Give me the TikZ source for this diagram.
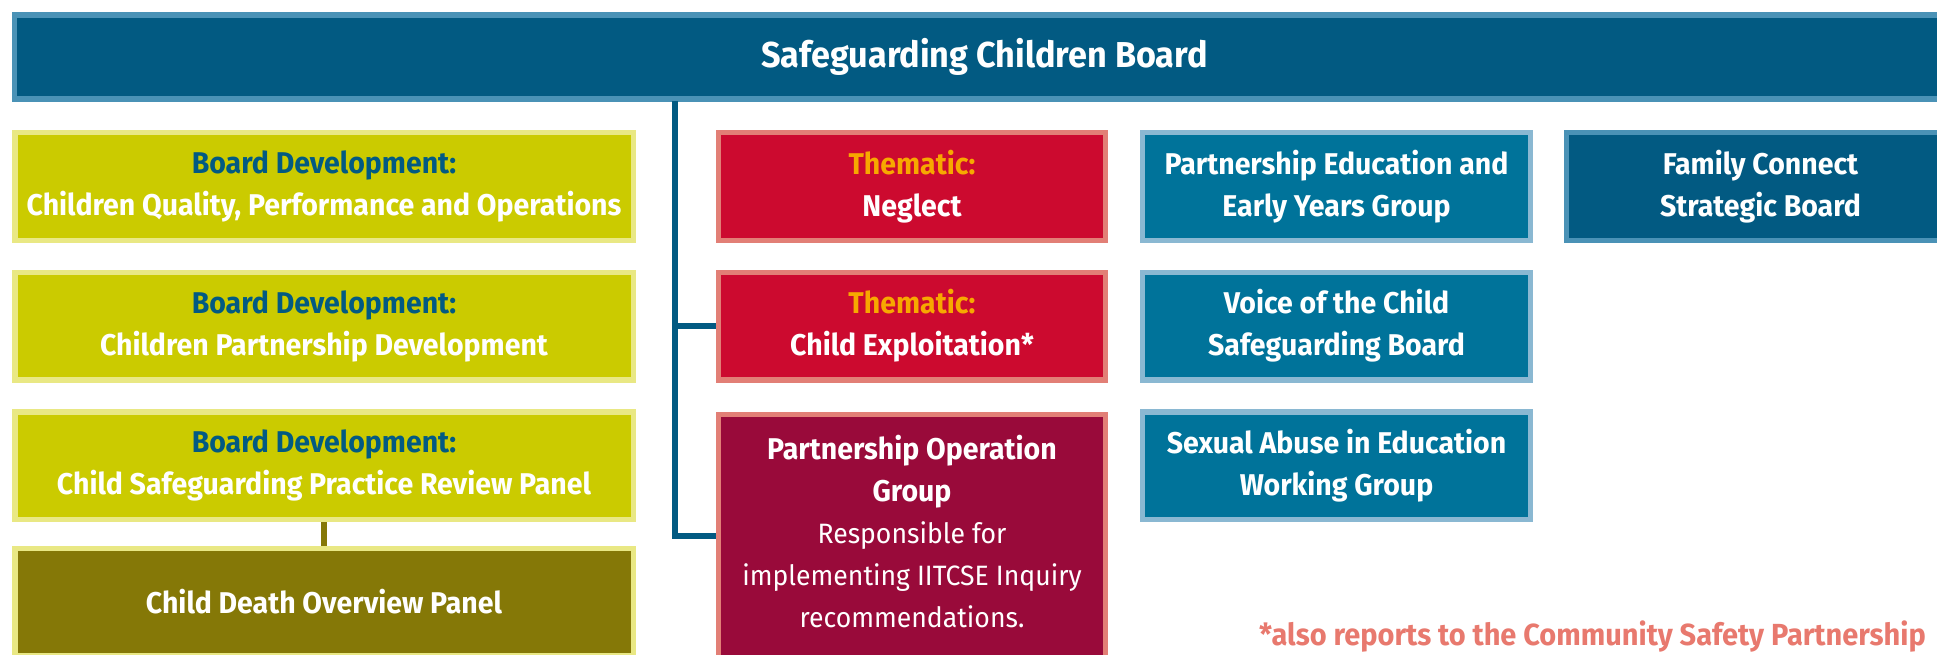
\documentclass[tikz,border=0pt]{standalone}
\usepackage{fontspec}
\setmainfont{Fira Sans}[FakeStretch=0.95]
\usetikzlibrary{calc}
\definecolor{navy}{HTML}{025A82}
\definecolor{navyedge}{HTML}{4A92B6}
\definecolor{teal}{HTML}{00739A}
\definecolor{tealedge}{HTML}{8AB8D2}
\definecolor{lime}{HTML}{CBCB00}
\definecolor{limeedge}{HTML}{E9E884}
\definecolor{olive}{HTML}{857807}
\definecolor{crimson}{HTML}{CC0A2F}
\definecolor{maroon}{HTML}{990A3A}
\definecolor{salmon}{HTML}{E27F76}
\definecolor{amber}{HTML}{F7A800}
\definecolor{foot}{HTML}{E8796E}
\tikzset{
  box/.style={draw, line width=5.5pt, inner sep=0pt, align=center, text=white,
    font=\bfseries\fontsize{30}{42}\selectfont},
  leftbox/.style={box, fill=lime, draw=limeedge, minimum width=618.5pt, minimum height=107.5pt},
  redbox/.style={box, fill=crimson, draw=salmon, minimum width=387pt, minimum height=107.5pt},
  bluebox/.style={box, fill=teal, draw=tealedge, minimum width=388pt, minimum height=107.5pt},
  navybox/.style={box, fill=navy, draw=navyedge},
  conn/.style={draw=navy, line width=5.5pt},
  oconn/.style={draw=olive, line width=5.5pt}
}
\begin{document}
\begin{tikzpicture}[x=1pt,y=-1pt]
\useasboundingbox (0,0) rectangle (1937,655);
\clip (0,0) rectangle (1937,655);
\fill[white] (0,0) rectangle (1937,655);
% top bar
\node[navybox, minimum width=1940pt, minimum height=84pt,
  font=\bfseries\fontsize{36}{42}\selectfont] (top) at (984.5,57) {Safeguarding Children Board};
% left column
\node[leftbox] (b1) at (324,186.5) {{\color{navy}Board Development:}\\Children Quality, Performance and Operations};
\node[leftbox] (b2) at (324,326) {{\color{navy}Board Development:}\\Children Partnership Development};
\node[leftbox] (b3) at (324,465.5) {{\color{navy}Board Development:}\\Child Safeguarding Practice Review Panel};
\node[leftbox, fill=olive, minimum height=107.5pt] (cdop) at (324,602) {Child Death Overview Panel};
% red column
\node[redbox] (neg) at (912,186.5) {{\color{amber}Thematic:}\\Neglect};
\node[redbox] (ce) at (912,326) {{\color{amber}Thematic:}\\Child Exploitation*};
\node[redbox, fill=maroon, minimum height=300pt, anchor=north] (pog) at (912,411.75) {};
\node[align=center, text=white, inner sep=0pt, font=\fontsize{28}{42}\selectfont] (pogt) at (912,531.5)
  {{\bfseries\fontsize{30}{42}\selectfont Partnership Operation}\\{\bfseries\fontsize{30}{42}\selectfont Group}\\Responsible for\\implementing IITCSE Inquiry\\recommendations.};
% blue column
\node[bluebox] (pe) at (1336.5,186.5) {Partnership Education and\\Early Years Group};
\node[bluebox] (voc) at (1336.5,326) {Voice of the Child\\Safeguarding Board};
\node[bluebox] (sa) at (1336.5,465.5) {Sexual Abuse in Education\\Working Group};
% family connect
\node[navybox, minimum width=388pt, minimum height=107.5pt] (fc) at (1760.5,186.5) {Family Connect\\Strategic Board};
% footnote
\node[anchor=east, text=foot, inner sep=0pt, font=\bfseries\fontsize{30.5}{42}\selectfont] (fn) at (1926,637)
  {*also reports to the Community Safety Partnership};
% connectors
\coordinate (j1) at (675,101);
\coordinate (j2) at (675,536);
\draw[conn] (j1) -- (j2) -- (j2 -| pog.west);
\draw[conn] (j1 |- ce.west) -- (ce.west);
\draw[oconn] (b3.south) -- (cdop.north);
\end{tikzpicture}
\end{document}
